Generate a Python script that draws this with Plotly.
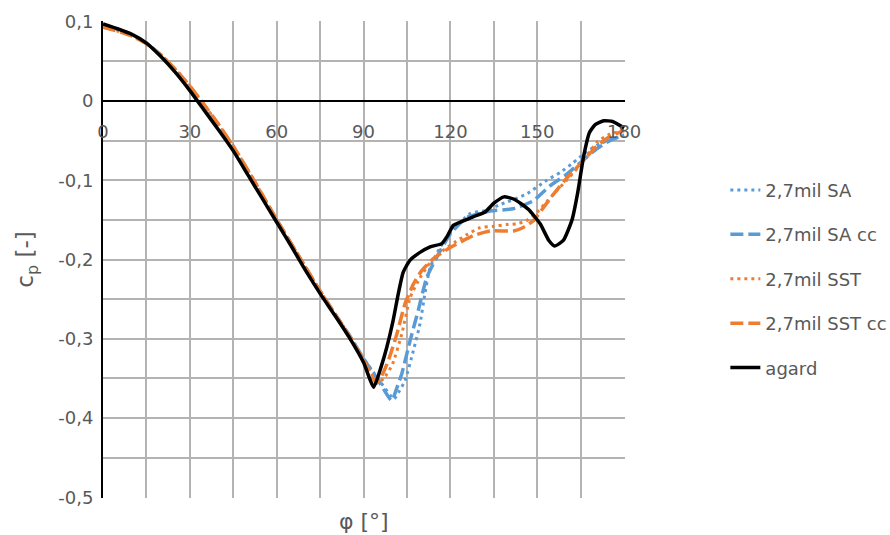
import plotly.graph_objects as go

# ---- data ----
x_sa = [0, 5, 10, 15, 20, 25, 30, 35, 40, 45, 50, 55, 60, 65, 70, 75, 80, 85, 90, 95,
        100.5, 102, 104.3, 107.2, 109.5, 111.2, 113, 116.4, 120.5, 126.8, 132.5, 137, 146, 153.3,
        158, 162.4, 167, 171.7, 176, 180]
y_sa = [0.095, 0.090, 0.083, 0.073, 0.058, 0.039, 0.017, -0.007, -0.032, -0.058, -0.088, -0.119,
        -0.150, -0.180, -0.210, -0.240, -0.268, -0.295, -0.325, -0.350,
        -0.376, -0.368, -0.353, -0.315, -0.281, -0.243, -0.210, -0.185, -0.164, -0.142, -0.138,
        -0.131, -0.118, -0.100, -0.090, -0.078, -0.064, -0.054, -0.048, -0.044]

x_sa_cc = [0, 5, 10, 15, 20, 25, 30, 35, 40, 45, 50, 55, 60, 65, 70, 75, 80, 85, 90, 95,
           99.7, 101.5, 103.2, 106.1, 108.9, 111.8, 115.3, 119.9, 125.6, 133.7, 141.6, 148.6,
           154.4, 160, 164.8, 170, 175, 180]
y_sa_cc = [0.095, 0.090, 0.083, 0.073, 0.058, 0.039, 0.017, -0.007, -0.032, -0.058, -0.088, -0.119,
           -0.150, -0.180, -0.210, -0.240, -0.268, -0.295, -0.325, -0.352,
           -0.378, -0.362, -0.344, -0.302, -0.264, -0.223, -0.197, -0.168, -0.147, -0.139, -0.136,
           -0.126, -0.107, -0.093, -0.078, -0.062, -0.050, -0.043]

x_sst = [0, 5, 10, 15, 20, 25, 30, 35, 40, 45, 50, 55, 60, 65, 70, 75, 80, 85, 90, 95,
         97, 100, 103.2, 106.1, 109.5, 113, 117, 122, 126, 130.2, 135, 139.4, 143, 146.3, 150,
         153.3, 157, 160.2, 165, 170.6, 175, 180]
y_sst = [0.093, 0.088, 0.082, 0.072, 0.058, 0.040, 0.019, -0.005, -0.030, -0.057, -0.087, -0.118,
         -0.150, -0.180, -0.210, -0.240, -0.268, -0.296, -0.327, -0.355,
         -0.350, -0.332, -0.294, -0.248, -0.223, -0.204, -0.190, -0.177, -0.168, -0.160, -0.158,
         -0.156, -0.155, -0.151, -0.140, -0.127, -0.112, -0.100, -0.080, -0.052, -0.042, -0.037]

x_sst_cc = [0, 5, 10, 15, 20, 25, 30, 35, 40, 45, 50, 55, 60, 65, 70, 75, 80, 85, 90, 94.5,
            96.5, 98.6, 101.5, 104.3, 107.2, 110.1, 114.1, 119.9, 127.9, 133.7, 141.8, 145, 148.7,
            151, 155.5, 160, 165, 170, 175, 180]
y_sst_cc = [0.093, 0.088, 0.082, 0.072, 0.058, 0.040, 0.019, -0.005, -0.030, -0.057, -0.087, -0.118,
            -0.150, -0.180, -0.210, -0.240, -0.268, -0.296, -0.327, -0.356,
            -0.345, -0.327, -0.294, -0.256, -0.231, -0.214, -0.199, -0.185, -0.170, -0.164, -0.164,
            -0.160, -0.151, -0.140, -0.118, -0.098, -0.079, -0.059, -0.045, -0.037]

x_agard = [0, 5, 10, 15, 20, 25, 30, 35, 40, 45, 50, 55, 60, 65, 70, 75, 80, 85, 90, 93.5,
           96, 98, 100.2, 102, 103.7, 106, 109.5, 113, 117, 119, 121, 124, 128, 132, 135, 138.5,
           142, 147, 151, 154, 156, 159, 162, 164, 166, 168, 170, 173, 176, 180]
y_agard = [0.097, 0.091, 0.084, 0.073, 0.056, 0.036, 0.013, -0.012, -0.037, -0.063, -0.093, -0.123,
           -0.153, -0.183, -0.214, -0.243, -0.270, -0.298, -0.330, -0.361,
           -0.336, -0.311, -0.277, -0.243, -0.216, -0.201, -0.191, -0.184, -0.180, -0.170, -0.157,
           -0.152, -0.146, -0.140, -0.129, -0.121, -0.124, -0.137, -0.155, -0.176, -0.183, -0.176,
           -0.150, -0.115, -0.070, -0.040, -0.030, -0.025, -0.026, -0.034]

series_names = ["2,7mil SA", "2,7mil SA cc", "2,7mil SST", "2,7mil SST cc", "agard"]

x_tickvals = [0, 30, 60, 90, 120, 150, 180]
x_ticktext = ["0", "30", "60", "90", "120", "150", "180"]
y_tickvals = [0.1, 0, -0.1, -0.2, -0.3, -0.4, -0.5]
y_ticktext = ["0,1", "0", "-0,1", "-0,2", "-0,3", "-0,4", "-0,5"]

BLUE = "#5B9BD5"
ORANGE = "#ED7D31"
GRID = "#B5B2B2"
TXT = "#595959"
FONT = "DejaVu Sans"

X_RANGE = [0, 180.3]
Y_RANGE = [-0.5008, 0.1008]

fig = go.Figure()
styles = [
    (x_sa, y_sa, BLUE, "3px,4px", 3),
    (x_sa_cc, y_sa_cc, BLUE, "13px,5px", 3.5),
    (x_sst, y_sst, ORANGE, "3px,4px", 3),
    (x_sst_cc, y_sst_cc, ORANGE, "13px,5px", 3.5),
    (x_agard, y_agard, "black", "solid", 3.5),
]
for name, (xs, ys, col, dash, w) in zip(series_names, styles):
    fig.add_trace(go.Scatter(x=xs, y=ys, mode="lines", name=name, legendgroup=name,
                             line=dict(color=col, dash=dash, width=w,
                                       shape="spline", smoothing=0.5)))

zero_pos = (0 - Y_RANGE[0]) / (Y_RANGE[1] - Y_RANGE[0])

fig.update_layout(
    width=890, height=535,
    margin=dict(l=103, r=265, t=21, b=37, autoexpand=False),
    paper_bgcolor="white", plot_bgcolor="white",
    font=dict(family=FONT, size=18, color=TXT),
    showlegend=True,
    legend=dict(x=0.815, xref="container", xanchor="left", y=0.684, yanchor="top",
                tracegroupgap=18, font=dict(size=18, color=TXT, family=FONT),
                bgcolor="rgba(0,0,0,0)"),
    xaxis=dict(range=X_RANGE, tickvals=x_tickvals, ticktext=x_ticktext,
               anchor="free", position=zero_pos, showline=True, linecolor="black", linewidth=2,
               showgrid=True, gridcolor=GRID, gridwidth=1.5,
               minor=dict(dtick=15, tick0=0, showgrid=True, gridcolor=GRID, gridwidth=1.5),
               ticks="", ticklabelstandoff=14, zeroline=False,
               tickfont=dict(size=18, color=TXT, family=FONT)),
    yaxis=dict(range=Y_RANGE, tickvals=y_tickvals, ticktext=y_ticktext,
               showline=True, linecolor="black", linewidth=2,
               showgrid=True, gridcolor=GRID, gridwidth=1.5,
               minor=dict(dtick=0.05, tick0=0, showgrid=True, gridcolor=GRID, gridwidth=1.5),
               ticks="", zeroline=False, ticklabelstandoff=4,
               tickfont=dict(size=18, color=TXT, family=FONT),
               title=dict(text="c<sub>p</sub> [-]", standoff=18,
                          font=dict(size=23, color=TXT, family=FONT))),
    annotations=[dict(text="φ [°]", x=0.5, y=-0.05, xref="paper", yref="paper",
                      xanchor="center", yanchor="middle", showarrow=False,
                      font=dict(size=22, color=TXT, family=FONT))],
)

fig.write_html("out.html")
